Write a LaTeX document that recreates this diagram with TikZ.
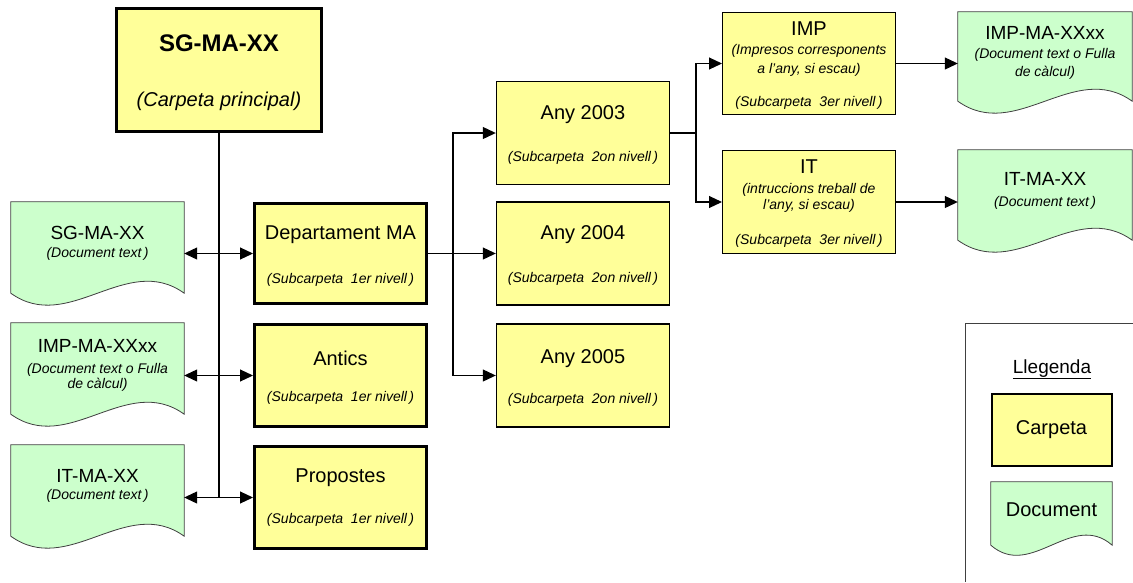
\documentclass[tikz,border=0pt]{standalone}
\usepackage{fontspec}
\setmainfont{Liberation Sans}
\usetikzlibrary{arrows.meta,calc}

\definecolor{folderfill}{HTML}{FFFF99}
\definecolor{docfill}{HTML}{CCFFCC}
\definecolor{docedge}{HTML}{404040}

\tikzset{
  arr/.style={-{Triangle[length=13pt,width=12pt]}},
  biarr/.style={{Triangle[length=13pt,width=12pt]}-{Triangle[length=13pt,width=12pt]}},
  folderA/.style={draw=black,fill=folderfill,line width=3pt,inner sep=0,minimum width=172,minimum height=100},
  folderB/.style={draw=black,fill=folderfill,line width=1.4pt,inner sep=0,minimum width=173,minimum height=103},
  folderC/.style={draw=black,fill=folderfill,line width=1pt,inner sep=0,minimum width=173,minimum height=102},
  docframe/.style={inner sep=0,minimum width=173,minimum height=91},
  docline/.style={draw=docedge,fill=docfill,line width=0.8pt},
  link/.style={line width=1.1pt},
  title/.style={font=\fontsize{20}{24}\selectfont,anchor=base,inner sep=0},
  doctitle/.style={font=\fontsize{19}{22}\selectfont,anchor=base,inner sep=0},
  note/.style={font=\fontsize{14}{16}\selectfont\itshape,anchor=base,inner sep=0},
}

% document symbol: flat top, straight sides, wavy bottom edge
\newcommand{\docwave}[3]{%
  \draw[docline] (#1.north west) -- (#1.north east) -- (#1.south east)
    .. controls ($(#1.south east)+(-#2,-#3)$) and ($(#1.south west)+(#2,#3)$) ..
    (#1.south west) -- cycle;}

\begin{document}
\begin{tikzpicture}[x=1pt,y=-1pt]
\useasboundingbox (0,0) rectangle (1133,582);

% ---------- main folder ----------
\node[folderA,minimum width=205,minimum height=123] (main) at (219,70) {};
\node[font=\fontsize{24}{28}\selectfont\bfseries,anchor=base,inner sep=0] (mainT) at (219,51) {SG-MA-XX};
\node[font=\fontsize{20}{24}\selectfont\itshape,anchor=base,inner sep=0] (mainS) at (219,106) {(Carpeta principal)};

% ---------- first level folders ----------
\node[folderA] (dept) at (340.5,253.5) {};
\node[title] (deptT) at (340.5,239) {Departament MA};
\node[note] (deptS) at (340.5,283) {(Subcarpeta\ \ 1er nivell\,)};

\node[folderA,minimum height=102] (antics) at (340.5,375.5) {};
\node[title] (anticsT) at (340.5,365) {Antics};
\node[note] (anticsS) at (340.5,401) {(Subcarpeta\ \ 1er nivell\,)};

\node[folderA,minimum height=102] (prop) at (340.5,497.5) {};
\node[title] (propT) at (340.5,482) {Propostes};
\node[note] (propS) at (340.5,523) {(Subcarpeta\ \ 1er nivell\,)};

% ---------- left documents ----------
\node[docframe] (sgdoc) at (97.5,247.5) {};
\docwave{sgdoc}{57.7}{41.5}
\node[doctitle] (sgdocT) at (97.5,239) {SG-MA-XX};
\node[note] (sgdocS) at (97.5,257) {(Document text\,)};

\node[docframe] (impdocL) at (97.5,368.5) {};
\docwave{impdocL}{57.7}{41.5}
\node[doctitle] (impdocLT) at (97.5,352) {IMP-MA-XXxx};
\node[note] (impdocLS) at (97.5,373) {(Document text o Fulla};
\node[note] (impdocLU) at (97.5,388) {de càlcul)};

\node[docframe] (itdocL) at (97.5,490.5) {};
\docwave{itdocL}{57.7}{41.5}
\node[doctitle] (itdocLT) at (97.5,482) {IT-MA-XX};
\node[note] (itdocLS) at (97.5,499) {(Document text\,)};

% ---------- second level folders ----------
\node[folderB] (any3) at (583,133) {};
\node[title] (any3T) at (583,119) {Any 2003};
\node[note] (any3S) at (583,161) {(Subcarpeta\ \ 2on nivell\,)};

\node[folderB] (any4) at (583,253.5) {};
\node[title] (any4T) at (583,239) {Any 2004};
\node[note] (any4S) at (583,282) {(Subcarpeta\ \ 2on nivell\,)};

\node[folderB] (any5) at (583,375.5) {};
\node[title] (any5T) at (583,363) {Any 2005};
\node[note] (any5S) at (583,403) {(Subcarpeta\ \ 2on nivell\,)};

% ---------- third level folders ----------
\node[folderC] (imp) at (809,63.5) {};
\node[title] (impT) at (809,35) {IMP};
\node[note] (impS1) at (809,54) {(Impresos corresponents};
\node[note] (impS2) at (809,73) {a l’any, si escau)};
\node[note] (impS3) at (809,106) {(Subcarpeta\ \ 3er nivell\,)};

\node[folderC,minimum height=103] (it) at (809,202) {};
\node[title] (itT) at (809,173) {IT};
\node[note] (itS1) at (809,193) {(intruccions treball de};
\node[note] (itS2) at (809,209) {l’any, si escau)};
\node[note] (itS3) at (809,244) {(Subcarpeta\ \ 3er nivell\,)};

% ---------- right documents ----------
\node[docframe,minimum width=174,minimum height=89] (impdocR) at (1045,56.5) {};
\docwave{impdocR}{58}{41.5}
\node[doctitle] (impdocRT) at (1045,39) {IMP-MA-XXxx};
\node[note] (impdocRS) at (1045,58) {(Document text o Fulla};
\node[note] (impdocRU) at (1045,76) {de càlcul)};

\node[docframe,minimum width=174,minimum height=90] (itdocR) at (1045,195) {};
\docwave{itdocR}{58}{41.5}
\node[doctitle] (itdocRT) at (1045,185) {IT-MA-XX};
\node[note] (itdocRS) at (1045,206) {(Document text\,)};

% ---------- connectors ----------
\draw[link] (main.south) -- (main.south |- prop.west);
\draw[link,biarr] (sgdoc.east |- dept.west) -- (dept.west);
\draw[link,biarr] (impdocL.east |- antics.west) -- (antics.west);
\draw[link,biarr] (itdocL.east |- prop.west) -- (prop.west);

\coordinate (split1) at (453,253.5);
\draw[link,arr] (dept.east) -- (any4.west);
\draw[link,arr] (split1) |- (any3.west);
\draw[link,arr] (split1) |- (any5.west);

\coordinate (split2) at (696,133);
\draw[link] (any3.east) -- (split2);
\draw[link,arr] (split2) |- (imp.west);
\draw[link,arr] (split2) |- (it.west);

\draw[link,arr] (imp.east) -- (impdocR.west |- imp.east);
\draw[link,arr] (it.east) -- (itdocR.west |- it.east);

% ---------- legend ----------
\draw[draw=docedge,line width=1pt] (1133,323) -- (965,323) -- (965,582);
\node[font=\fontsize{19}{22}\selectfont,anchor=base,inner sep=0] (legT) at (1052,373) {\underline{Llegenda}};
\node[draw=black,fill=folderfill,line width=2pt,inner sep=0,minimum width=120,minimum height=72] (legF) at (1051.5,429.5) {};
\node[title] (legFT) at (1051.5,434) {Carpeta};
\node[docframe,minimum width=121,minimum height=63] (legD) at (1051.5,513.5) {};
\docwave{legD}{40.3}{35}
\node[title] (legDT) at (1051.5,516) {Document};

\end{tikzpicture}
\end{document}
